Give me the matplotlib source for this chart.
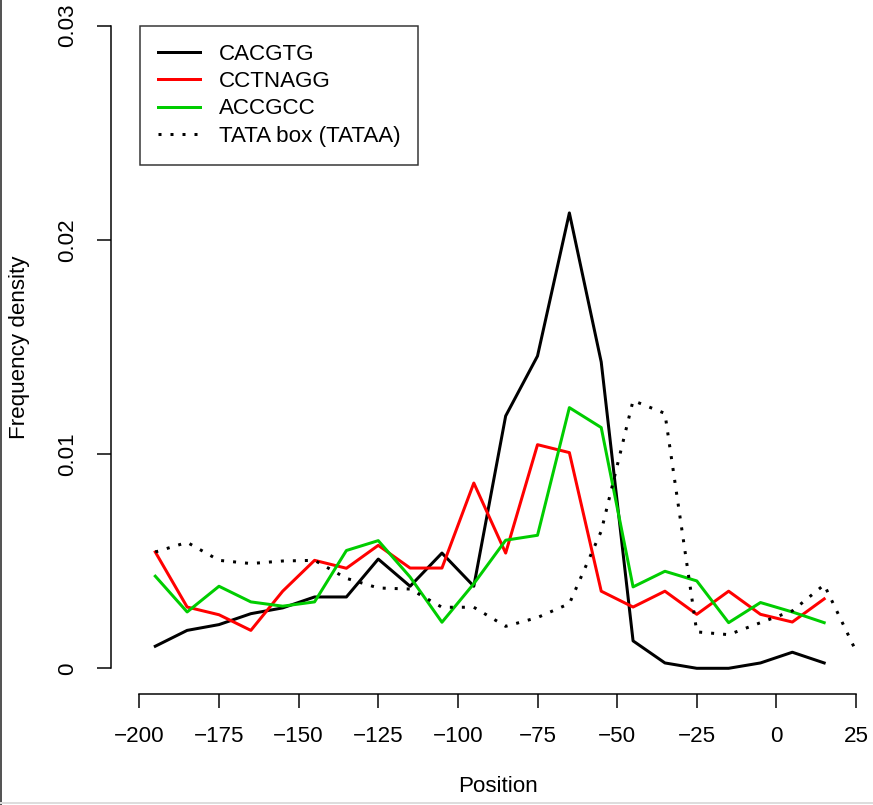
import numpy as np
import matplotlib.pyplot as plt
from matplotlib.lines import Line2D

plt.rcParams['font.family'] = ['Liberation Sans', 'DejaVu Sans']

# posições (centro das janelas de 10 pb)
pos = np.arange(-195, 16, 10)
pos_tata = np.arange(-195, 26, 10)

cacgtg = [0.00103, 0.00177, 0.00204, 0.00255, 0.00282, 0.00333, 0.00333, 0.0051,
          0.00383, 0.00538, 0.00383, 0.01178, 0.01458, 0.02126, 0.0143, 0.00128,
          0.00025, 0.0, 0.0, 0.00025, 0.00075, 0.00025]
cctnagg = [0.00543, 0.00286, 0.0025, 0.00177, 0.0036, 0.00504, 0.00467, 0.00574,
           0.00468, 0.00468, 0.00865, 0.00538, 0.01044, 0.01007, 0.0036, 0.00286,
           0.0036, 0.00252, 0.0036, 0.00252, 0.00216, 0.00324]
accgcc = [0.0043, 0.00263, 0.00383, 0.0031, 0.0029, 0.0031, 0.0055, 0.00596,
          0.00426, 0.00215, 0.00395, 0.00598, 0.00621, 0.01217, 0.01124, 0.0038,
          0.00453, 0.00408, 0.00213, 0.00307, 0.00263, 0.00213]
tata = [0.00543, 0.00588, 0.00504, 0.00489, 0.00501, 0.00504, 0.0042, 0.00375,
        0.0037, 0.00285, 0.00285, 0.00196, 0.00237, 0.00302, 0.0064, 0.0125,
        0.0119, 0.0017, 0.00157, 0.00213, 0.00268, 0.0039, 0.0008]

xticks = [-200, -175, -150, -125, -100, -75, -50, -25, 0, 25]
yticks = [0, 0.01, 0.02, 0.03]
yticklabels = ['0', '0.01', '0.02', '0.03']

W, H, DPI = 873, 805, 144
FS = 11.2
fig = plt.figure(figsize=(W / DPI, H / DPI), dpi=DPI)
# região do gráfico como no R (pode passar da borda direita)
ax = fig.add_axes([110.7 / W, (H - 694) / H, (884.7 - 110.7) / W, 694 / H])

ax.plot(pos, cacgtg, color='black', lw=1.5, label='CACGTG')
ax.plot(pos, cctnagg, color='#FF0000', lw=1.5, label='CCTNAGG')
ax.plot(pos, accgcc, color='#00CD00', lw=1.5, label='ACCGCC')
ax.plot(pos_tata, tata, color='black', lw=1.5, linestyle=(0, (1, 3)),
        label='TATA box (TATAA)')

ax.set_xlim(-209, 34)
ax.set_ylim(-0.0012, 0.0312)
ax.set_xticks(xticks)
ax.set_xticklabels([str(t).replace('-', '\u2212') for t in xticks])
ax.set_yticks(yticks)
ax.set_yticklabels(yticklabels, rotation=90, va='center')

for s in ['top', 'right']:
    ax.spines[s].set_visible(False)
ax.spines['bottom'].set_bounds(-200, 25)
ax.spines['left'].set_bounds(0, 0.03)
for s in ['bottom', 'left']:
    ax.spines[s].set_linewidth(0.75)
ax.tick_params(direction='out', length=7.2, width=0.75, labelsize=FS)
ax.tick_params(axis='x', pad=9)
ax.tick_params(axis='y', pad=9)

fig.text(497.7 / W, 1 - 787 / H, 'Position', ha='center', va='center', fontsize=FS)
fig.text(20 / W, 1 - 347 / H, 'Frequency density', ha='center', va='center',
         rotation=90, fontsize=FS)

leg = ax.legend(loc='upper left', bbox_to_anchor=(140 / W, 1 - 26 / H),
                bbox_transform=fig.transFigure, fontsize=FS, frameon=True,
                fancybox=False, edgecolor='black', borderaxespad=0,
                borderpad=0.8, handlelength=1.86, handletextpad=0.85,
                labelspacing=0.28)
leg.get_frame().set_linewidth(0.75)

# bordas da captura de tela
fig.add_artist(Line2D([0.5 / W, 0.5 / W], [0, 1], color='#555555', lw=1))
fig.add_artist(Line2D([0, 1], [2 / H, 2 / H], color='#dddddd', lw=1))

fig.savefig('out.png', dpi=DPI)
